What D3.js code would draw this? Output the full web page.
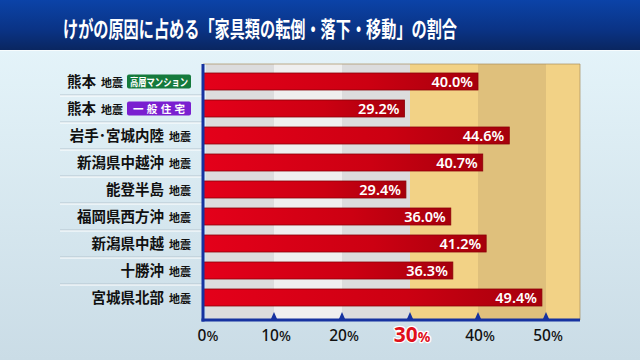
<!DOCTYPE html>
<html><head><meta charset="utf-8">
<script src="https://cdn.jsdelivr.net/npm/d3@7"></script>
<style>html,body{margin:0;padding:0;overflow:hidden;background:#fff}</style>
</head><body>
<script>
const title = "けがの原因に占める「家具類の転倒・落下・移動」の割合";
const places = ["熊本","熊本","岩手･宮城内陸","新潟県中越沖","能登半島","福岡県西方沖","新潟県中越","十勝沖","宮城県北部"];
const suffix = "地震";
const badges = ["高層マンション","一般住宅",null,null,null,null,null,null,null];
const badgeColors = ["#157a3c","#7a1fd0"];
const values = [40.0,29.2,44.6,40.7,29.4,36.0,41.2,36.3,49.4];
const ticks = [0,10,20,30,40,50];
const highlightTick = 30;
const bands = [[0,10,"#dcdcdd"],[10,20,"#efefef"],[20,30,"#dcdcdd"],[30,40,"#f2d286"],[40,50,"#dfc07c"],[50,55,"#f2d286"]];

const W=640,H=360;
const svg=d3.select("body").append("svg").attr("width",W).attr("height",H)
  .style("font-family","'Noto Sans CJK JP','Noto Sans',sans-serif");
const defs=svg.append("defs");
const bg=defs.append("linearGradient").attr("id","bg").attr("x1",0).attr("y1",0).attr("x2",0).attr("y2",1);
bg.append("stop").attr("offset","0").attr("stop-color","#e8f7fc");
bg.append("stop").attr("offset","1").attr("stop-color","#cadce6");
const tg=defs.append("linearGradient").attr("id","tg").attr("x1",0).attr("y1",0).attr("x2",0).attr("y2",1);
tg.append("stop").attr("offset","0").attr("stop-color","#0b43a8");
tg.append("stop").attr("offset","0.6").attr("stop-color","#0a3385");
tg.append("stop").attr("offset","1").attr("stop-color","#0a2660");
const rg=defs.append("linearGradient").attr("id","rg").attr("x1",0).attr("y1",0).attr("x2",1).attr("y2",0);
rg.append("stop").attr("offset","0").attr("stop-color","#e4001a");
rg.append("stop").attr("offset","0.6").attr("stop-color","#cc0012");
rg.append("stop").attr("offset","1").attr("stop-color","#a6000c");

svg.append("rect").attr("width",W).attr("height",H).attr("fill","url(#bg)");
svg.append("rect").attr("width",W).attr("height",50).attr("fill","url(#tg)");
svg.append("rect").attr("y",50).attr("width",W).attr("height",1).attr("fill","#ffffff").attr("opacity",0.7);
svg.append("text").attr("x",63).attr("y",37)
  .attr("textLength",394).attr("lengthAdjust","spacingAndGlyphs")
  .attr("fill","#fff").attr("font-size",21.5).attr("font-weight","bold").text(title);

const x0=203, x1=580, yTop=64, yBot=320;
const x=d3.scaleLinear().domain([0,55]).range([206,580]);
const y=d3.scaleBand().domain(d3.range(places.length)).range([68,311]);

// bands
svg.append("g").selectAll("rect").data(bands).join("rect")
  .attr("x",d=>Math.max(x(d[0]),x0)).attr("y",yTop)
  .attr("width",d=>x(d[1])-Math.max(x(d[0]),x0)).attr("height",yBot-yTop)
  .attr("fill",d=>d[2]);
svg.append("path").attr("d",`M${x0},${yTop}H${x1}V${yBot}`).attr("fill","none")
  .attr("stroke","#a89060").attr("stroke-width",1).attr("opacity",0.7);

// separators in label area
svg.append("g").selectAll("line").data(d3.range(1,places.length)).join("line")
  .attr("x1",60).attr("x2",x0).attr("y1",i=>y(i)).attr("y2",i=>y(i))
  .attr("stroke","#b5c5cf").attr("stroke-width",1);
svg.append("g").selectAll("line").data(d3.range(1,places.length)).join("line")
  .attr("x1",60).attr("x2",x0).attr("y1",i=>y(i)+1).attr("y2",i=>y(i)+1)
  .attr("stroke","#ffffff").attr("stroke-width",1);

// bars
const bh=17;
const bars=svg.append("g");
bars.selectAll("rect").data(values).join("rect")
  .attr("x",x(0)-3).attr("y",(d,i)=>y(i)+y.bandwidth()/2-bh/2)
  .attr("width",d=>x(d)-x(0)+3).attr("height",bh)
  .attr("fill","url(#rg)").attr("stroke","#8a0008").attr("stroke-width",0.8);
bars.selectAll("text").data(values).join("text")
  .attr("x",d=>x(d)-5).attr("y",(d,i)=>y(i)+y.bandwidth()/2+5.5)
  .attr("text-anchor","end").attr("fill","#fff").attr("font-size",14.5).attr("font-weight","600")
  .attr("font-family","'Noto Sans','DejaVu Sans',sans-serif")
  .text(d=>d.toFixed(1)+"%");

// labels
const lab=svg.append("g");
places.forEach((p,i)=>{
  const cy=y(i)+y.bandwidth()/2;
  const hasBadge=!!badges[i];
  const t=lab.append("text").attr("x",hasBadge?123:191).attr("y",cy+5.5).attr("text-anchor","end").attr("fill","#111");
  t.append("tspan").attr("font-size",14.5).attr("font-weight","bold").text(p);
  t.append("tspan").attr("font-size",11).attr("font-weight","bold").attr("dx",5).text(suffix);
  if(hasBadge){
    lab.append("rect").attr("x",127).attr("y",cy-7).attr("width",64).attr("height",14).attr("rx",2)
      .attr("fill",badgeColors[i]);
    lab.append("text").attr("x",i===1?133:130).attr("y",cy+4).attr("fill","#fff")
      .attr("font-size",10.5).attr("font-weight","bold")
      .attr("textLength",i===1?52:58).attr("lengthAdjust",i===1?"spacing":"spacingAndGlyphs")
      .text(badges[i]);
  }
});

// axes
svg.append("line").attr("x1",x0).attr("x2",x0).attr("y1",yTop).attr("y2",yBot+1.5)
  .attr("stroke","#1632a0").attr("stroke-width",3);
svg.append("line").attr("x1",x0-1.5).attr("x2",x1).attr("y1",yBot).attr("y2",yBot)
  .attr("stroke","#1632a0").attr("stroke-width",3);
svg.append("g").selectAll("path").data(ticks.filter(t=>t>0)).join("path")
  .attr("d",t=>`M${x(t)-3.5},${yBot}L${x(t)},${yBot-8}L${x(t)+3.5},${yBot}Z`)
  .attr("fill","#1632a0");

const tl=svg.append("g").attr("font-family","'Noto Sans','DejaVu Sans',sans-serif");
ticks.forEach(t=>{
  const hi=t===highlightTick;
  const txt=tl.append("text").attr("x",x(t)+2).attr("y",hi?342:341).attr("text-anchor","middle")
    .attr("fill",hi?"#e0101a":"#111");
  if(hi){txt.attr("stroke","#fff").attr("stroke-width",2.5).attr("paint-order","stroke").attr("stroke-linejoin","round");}
  txt.append("tspan").attr("font-size",hi?21:15.5).attr("font-weight",hi?"bold":"500").text(t);
  txt.append("tspan").attr("font-size",hi?14:14).attr("font-weight",hi?"bold":"500").text("%");
});
</script>
</body></html>
